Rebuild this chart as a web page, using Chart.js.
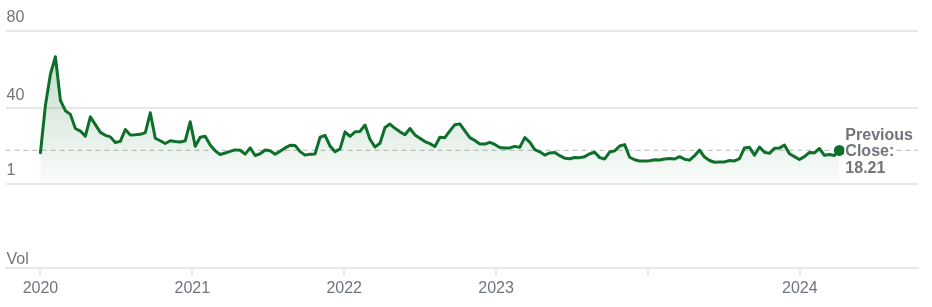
<!DOCTYPE html>
<html>
<head>
<meta charset="utf-8">
<script src="https://cdn.jsdelivr.net/npm/chart.js@4.4.1/dist/chart.umd.min.js"></script>
<style>
  html, body { margin: 0; padding: 0; background: #fff; }
  #wrap { width: 932px; height: 307px; }
</style>
</head>
<body>
<div id="wrap"><canvas id="priceChart" width="932" height="307"></canvas></div>
<script>
// price series, one point roughly every 12 days from the start of 2020
const startYear = 2020;
const stepYears = 12 / 365;
const prices = [
  17.0, 41.5, 57.5, 66.5, 44.0, 38.7, 36.8, 29.5, 28.2, 25.6,
  35.5, 31.5, 27.5, 26.0, 25.2, 22.3, 22.9, 29.0, 26.2, 26.3,
  26.5, 27.4, 37.6, 24.5, 23.2, 21.8, 23.2, 22.8, 22.6, 23.2,
  33.0, 20.4, 25.0, 25.5, 21.0, 18.0, 16.1, 16.9, 17.7, 18.5,
  18.3, 16.3, 19.5, 15.6, 16.5, 18.4, 18.0, 16.2, 17.8, 19.5,
  20.9, 20.8, 17.6, 15.8, 16.3, 16.4, 25.0, 26.0, 20.5, 17.5,
  19.0, 27.8, 25.5, 27.8, 28.0, 31.3, 24.0, 20.0, 21.9, 30.0,
  31.8, 29.6, 27.8, 26.3, 29.5, 26.2, 24.5, 22.8, 21.7, 20.2,
  25.0, 24.8, 28.3, 31.5, 31.9, 28.3, 24.8, 23.3, 21.5, 21.5,
  22.4, 21.3, 19.7, 19.5, 19.5, 20.3, 19.8, 24.8, 22.5, 18.6,
  17.5, 15.8, 16.9, 17.1, 15.5, 14.2, 13.9, 14.6, 14.5, 15.0,
  16.5, 17.3, 14.5, 13.8, 17.4, 18.0, 20.5, 21.2, 14.7, 13.4,
  12.8, 12.7, 12.9, 13.4, 13.3, 13.8, 14.0, 13.8, 15.0, 13.7,
  13.2, 15.5, 18.4, 14.8, 13.0, 12.1, 12.2, 12.3, 13.0, 12.8,
  14.0, 19.5, 19.8, 15.7, 20.0, 17.3, 16.7, 19.3, 19.4, 21.0,
  16.5, 15.0, 13.5, 15.0, 17.2, 17.0, 19.2, 15.7, 16.1, 15.6,
  18.21
];
const previousClose = 18.21;

// axis ticks
const yTicks = [1, 40, 80];
const xTickValues = [2020, 2021, 2022, 2023, 2024, 2025];
const xTickLabels = ["2020", "2021", "2022", "2023", "", "2024"];

const xMin = 2019.77, xMax = 2025.778;
const yMin = -42.4, yMax = 90.3;

const green = "#0e6f2b";
const gray = "#70757a";
const gridColor = "#e8e8e8";

const points = prices.map((v, i) => ({ x: startYear + i * stepYears, y: v }));
const lastIndex = points.length - 1;

// labels drawn on top: "Vol" and the previous close note
const labelPlugin = {
  id: "labels",
  afterDatasetsDraw(chart) {
    const { ctx, chartArea, scales } = chart;
    ctx.save();
    ctx.font = "16px 'Liberation Sans', Arial, sans-serif";
    ctx.fillStyle = gray;
    ctx.textBaseline = "bottom";
    ctx.textAlign = "left";
    ctx.fillText("Vol", chartArea.left + 1, chartArea.bottom);

    const px = scales.x.getPixelForValue(points[lastIndex].x) + 6;
    const py = scales.y.getPixelForValue(previousClose) + 1.5;
    const lines = ["Previous", "Close:", previousClose.toFixed(2)];
    ctx.font = "bold 16px 'Liberation Sans', Arial, sans-serif";
    ctx.textBaseline = "middle";
    lines.forEach((t, i) => {
      const ly = py + (i - 1) * 16.5;
      const w = ctx.measureText(t).width;
      ctx.fillStyle = "#fff";
      ctx.fillRect(px - 1, ly - 8, w + 2, 16.5);
      ctx.fillStyle = gray;
      ctx.fillText(t, px, ly);
    });
    ctx.restore();
  }
};

const ctx = document.getElementById("priceChart").getContext("2d");
const chart = new Chart(ctx, {
  type: "line",
  data: {
    datasets: [
      {
        data: points,
        borderColor: green,
        borderWidth: 3,
        borderJoinStyle: "round",
        borderCapStyle: "round",
        tension: 0,
        pointRadius: c => (c.dataIndex === lastIndex ? 5.5 : 0),
        pointBackgroundColor: green,
        pointBorderWidth: 0,
        fill: { target: { value: 1 } },
        backgroundColor: c => {
          const area = c.chart.chartArea;
          if (!area) return "rgba(14,111,43,0.1)";
          const yS = c.chart.scales.y;
          const g = c.chart.ctx.createLinearGradient(0, yS.getPixelForValue(66), 0, yS.getPixelForValue(1));
          g.addColorStop(0, "rgba(14,111,43,0.24)");
          g.addColorStop(1, "rgba(14,111,43,0.02)");
          return g;
        },
        order: 1
      },
      {
        data: [{ x: xMin, y: previousClose }, { x: xMax, y: previousClose }],
        borderColor: "#c4c4c4",
        borderWidth: 1.3,
        borderDash: [5, 4],
        pointRadius: 0,
        fill: false,
        order: 2
      }
    ]
  },
  options: {
    responsive: false,
    animation: false,
    layout: { padding: { top: 5, right: 14, left: 0, bottom: 0 } },
    plugins: {
      legend: { display: false },
      tooltip: { enabled: false }
    },
    scales: {
      x: {
        type: "linear",
        min: xMin,
        max: xMax,
        afterBuildTicks: s => { s.ticks = xTickValues.map(v => ({ value: v })); },
        afterFit: s => { s.height = 39; },
        ticks: {
          autoSkip: false,
          maxRotation: 0,
          color: gray,
          padding: 3,
          font: { family: "'Liberation Sans', Arial, sans-serif", size: 16 },
          callback: (v, i) => xTickLabels[i]
        },
        grid: { drawOnChartArea: false, drawTicks: true, tickLength: 8, color: gridColor, lineWidth: 2 },
        border: { display: true, color: gridColor, width: 2 }
      },
      y: {
        min: yMin,
        max: yMax,
        afterBuildTicks: s => { s.ticks = yTicks.map(v => ({ value: v })); },
        afterFit: s => { s.width = 3; },
        ticks: {
          mirror: true,
          padding: 1,
          labelOffset: -13,
          color: gray,
          font: { family: "'Liberation Sans', Arial, sans-serif", size: 16 }
        },
        grid: { drawTicks: false, color: gridColor, lineWidth: 2 },
        border: { display: false }
      }
    }
  },
  plugins: [labelPlugin]
});
</script>
</body>
</html>
